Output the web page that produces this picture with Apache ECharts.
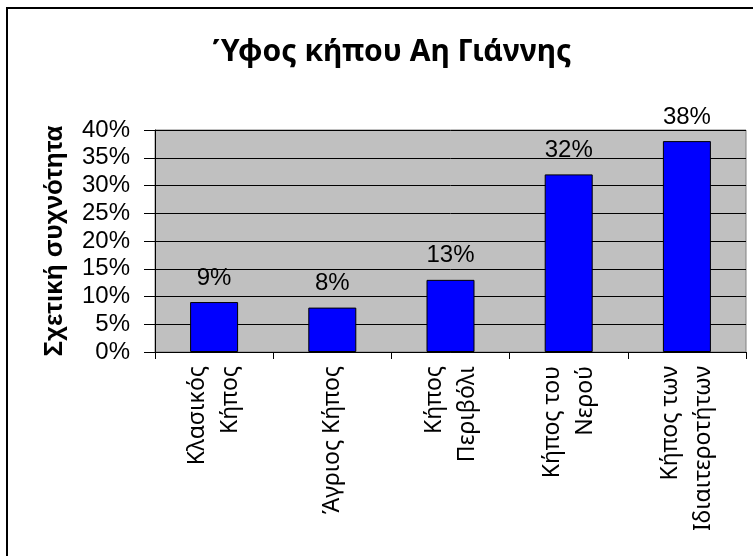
<!DOCTYPE html>
<html>
<head>
<meta charset="utf-8">
<script src="https://cdn.jsdelivr.net/npm/echarts@6/dist/echarts.min.js"></script>
<style>
html,body{margin:0;padding:0;background:#fff;}
#chart{width:753px;height:556px;}
</style>
</head>
<body>
<div id="chart"></div>
<script>
const categories = ['Κλασικός\nΚήπος', 'Άγριος Κήπος', 'Κήπος\nΠεριβόλι', 'Κήπος του\nΝερού', 'Κήπος των\nΙδιαιτεροτήτων'];
const values = [9, 8, 13, 32, 38];
const titleText = 'Ύφος κήπου Αη Γιάννης';
const yAxisName = 'Σχετική συχνότητα';

const chart = echarts.init(document.getElementById('chart'));
chart.setOption({
  backgroundColor: '#ffffff',
  animation: false,
  title: {
    text: titleText,
    left: 387,
    top: 32,
    textAlign: 'center',
    textStyle: {fontFamily: 'Noto Sans', fontWeight: 'bold', fontSize: 30, color: '#000'}
  },
  graphic: [{
    type: 'rect',
    shape: {x: 7, y: 8, width: 800, height: 600},
    style: {fill: 'none', stroke: '#000', lineWidth: 2},
    silent: true
  }, {
    type: 'rect',
    shape: {x: 155, y: 130, width: 591, height: 222},
    style: {fill: 'none', stroke: '#808080', lineWidth: 1},
    z: 0,
    silent: true
  }],
  grid: {left: 155, right: 7, top: 130, bottom: 204, show: true, backgroundColor: '#C0C0C0', borderWidth: 0},
  xAxis: {
    type: 'category',
    data: categories,
    axisLine: {lineStyle: {color: '#000', width: 1}},
    axisTick: {show: true, length: 7, lineStyle: {color: '#000'}},
    axisLabel: {rotate: 90, margin: 14, interval: 0, color: '#000', fontFamily: 'Noto Sans', fontSize: 23, lineHeight: 33}
  },
  yAxis: {
    type: 'value',
    min: 0, max: 40, interval: 5,
    name: yAxisName,
    nameLocation: 'middle',
    nameGap: 87,
    nameRotate: 90,
    nameTextStyle: {fontFamily: 'Liberation Sans, Arial', fontWeight: 'bold', fontSize: 26, color: '#000'},
    axisLine: {show: true, lineStyle: {color: '#000', width: 1}},
    axisTick: {show: true, length: 11, lineStyle: {color: '#000'}},
    axisLabel: {formatter: '{value}%', margin: 25, color: '#000', fontFamily: 'Liberation Sans, Arial', fontSize: 24},
    splitLine: {show: true, lineStyle: {color: '#000', width: 1}}
  },
  series: [{
    type: 'bar',
    data: values,
    barWidth: 48,
    itemStyle: {color: '#0000FF', borderColor: '#000', borderWidth: 1},
    label: {show: true, position: 'top', distance: 12, formatter: '{c}%', color: '#000', fontFamily: 'Liberation Sans, Arial', fontSize: 24}
  }]
});
</script>
</body>
</html>
